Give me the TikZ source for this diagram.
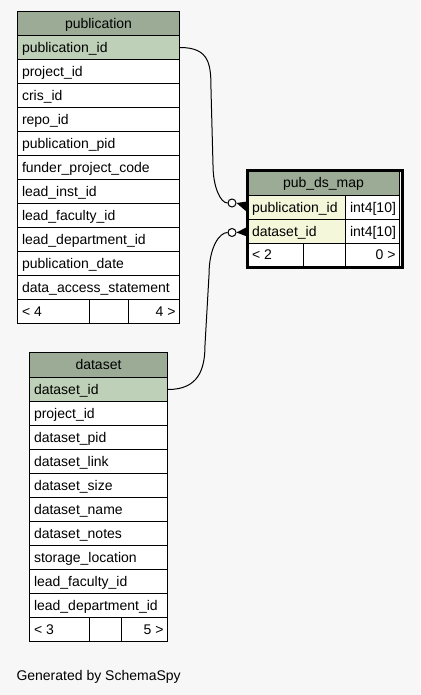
\documentclass[tikz,border=0pt]{standalone}
\usepackage{fontspec}
\setmainfont{Liberation Sans}
\definecolor{pagebg}{HTML}{F7F7F7}
\definecolor{headfill}{HTML}{9BAB96}
\definecolor{keyfill}{HTML}{BED1B8}
\definecolor{colfill}{HTML}{F4F7DA}
\begin{document}
\begin{tikzpicture}[x=1pt,y=-1pt,line width=1pt,
  cellbox/.style={draw=black,inner sep=0pt,anchor=north west,minimum height=24pt},
  txt/.style={inner sep=0pt,font=\fontsize{14}{16}\selectfont},
  fkdot/.style={circle,draw=black,fill=white,inner sep=0pt,minimum size=8pt,line width=1pt},
  link/.style={draw=black,line width=1pt}]

\useasboundingbox[fill=pagebg] (0,0) rectangle (420,695);

% cell with left-aligned text: name, x, y, width, fill, text
\newcommand\lcell[6]{%
  \node[cellbox,fill=#5,minimum width=#4pt] (#1) at ({#2},{#3}) {};
  \node[txt,anchor=base west] (#1-t) at ([xshift=4.5pt,yshift=-4.7pt]#1.west) {#6};}
% cell with centred text
\newcommand\ccell[6]{%
  \node[cellbox,fill=#5,minimum width=#4pt] (#1) at ({#2},{#3}) {};
  \node[txt,anchor=base] (#1-t) at ([yshift=-4.7pt]#1.center) {#6};}
% cell with right-aligned text
\newcommand\rcell[6]{%
  \node[cellbox,fill=#5,minimum width=#4pt] (#1) at ({#2},{#3}) {};
  \node[txt,anchor=base east] (#1-t) at ([xshift=-4pt,yshift=-4.7pt]#1.east) {#6};}

% ---- publication ----
\ccell{pub-h}{17}{11}{162}{headfill}{publication}
\lcell{pub-1}{17}{35}{162}{keyfill}{publication\_id}
\foreach \t [count=\i from 2] in {project\_id,cris\_id,repo\_id,publication\_pid,
  funder\_project\_code,lead\_inst\_id,lead\_faculty\_id,lead\_department\_id,
  publication\_date,data\_access\_statement}
  {\lcell{pub-\i}{17}{35+24*(\i-1)}{162}{white}{\t}}
\lcell{pub-f1}{17}{299}{72}{white}{< 4}
\node[cellbox,fill=white,minimum width=39pt] (pub-f2) at (89,299) {};
\rcell{pub-f3}{128}{299}{51}{white}{4 >}

% ---- dataset ----
\node[cellbox,fill=headfill,minimum width=138pt,minimum height=25pt] (ds-h) at (29,352) {};
\node[txt,anchor=base] (ds-h-t) at ([yshift=-4.7pt]ds-h.center) {dataset};
\lcell{ds-1}{29}{377}{138}{keyfill}{dataset\_id}
\foreach \t [count=\i from 2] in {project\_id,dataset\_pid,dataset\_link,dataset\_size,
  dataset\_name,dataset\_notes,storage\_location,lead\_faculty\_id,lead\_department\_id}
  {\lcell{ds-\i}{29}{377+24*(\i-1)}{138}{white}{\t}}
\lcell{ds-f1}{29}{617}{60}{white}{< 3}
\node[cellbox,fill=white,minimum width=32pt] (ds-f2) at (89,617) {};
\rcell{ds-f3}{121}{617}{46}{white}{5 >}

% ---- pub_ds_map ----
\node[cellbox,fill=headfill,minimum width=152pt,minimum height=25.5pt] (map-h) at (247,169.5) {};
\node[txt,anchor=base] (map-h-t) at ([yshift=-4.7pt]map-h.center) {pub\_ds\_map};
\lcell{map-1}{247}{195}{98}{colfill}{publication\_id}
\lcell{map-1b}{345}{195}{54}{white}{int4[10]}
\lcell{map-2}{247}{219}{98}{colfill}{dataset\_id}
\lcell{map-2b}{345}{219}{54}{white}{int4[10]}
\node[cellbox,fill=white,minimum width=56pt,minimum height=22.5pt] (map-f1) at (247,243) {};
\node[txt,anchor=base west] (map-f1-t) at ([xshift=4.5pt,yshift=-4.7pt]map-f1.west) {< 2};
\node[cellbox,fill=white,minimum width=42pt,minimum height=22.5pt] (map-f2) at (303,243) {};
\node[cellbox,fill=white,minimum width=54pt,minimum height=22.5pt] (map-f3) at (345,243) {};
\node[txt,anchor=base east] (map-f3-t) at ([xshift=-4pt,yshift=-4.7pt]map-f3.east) {0 >};
\node[draw=black,line width=3pt,inner sep=0pt,anchor=north west,
  minimum width=155pt,minimum height=97.5pt] (map) at (245.5,168.5) {};

% ---- foreign keys ----
\node[fkdot] (o1) at (232,203) {};
\node[fkdot] (o2) at (232,232.5) {};

\draw[link] (pub-1.east) .. controls +(30,0) and +(0,-25) .. (211,90)
  -- (213,165) .. controls +(0,22) and +(-7,0) .. (o1.west);
\fill (o1.east) -- ([yshift=6pt]map-1.west) -- ([yshift=-4.5pt]map-1.west) -- cycle;

\draw[link] (ds-1.east) .. controls +(30,0) and +(0,25) .. (205,345)
  -- (209,275) .. controls +(0,-28) and +(-8,0) .. (o2.west);
\fill (o2.east) -- ([yshift=4.5pt]map-2.west) -- ([yshift=-5pt]map-2.west) -- cycle;

\node[txt,anchor=base west] (credit) at (16,680) {Generated by SchemaSpy};
\end{tikzpicture}
\end{document}
